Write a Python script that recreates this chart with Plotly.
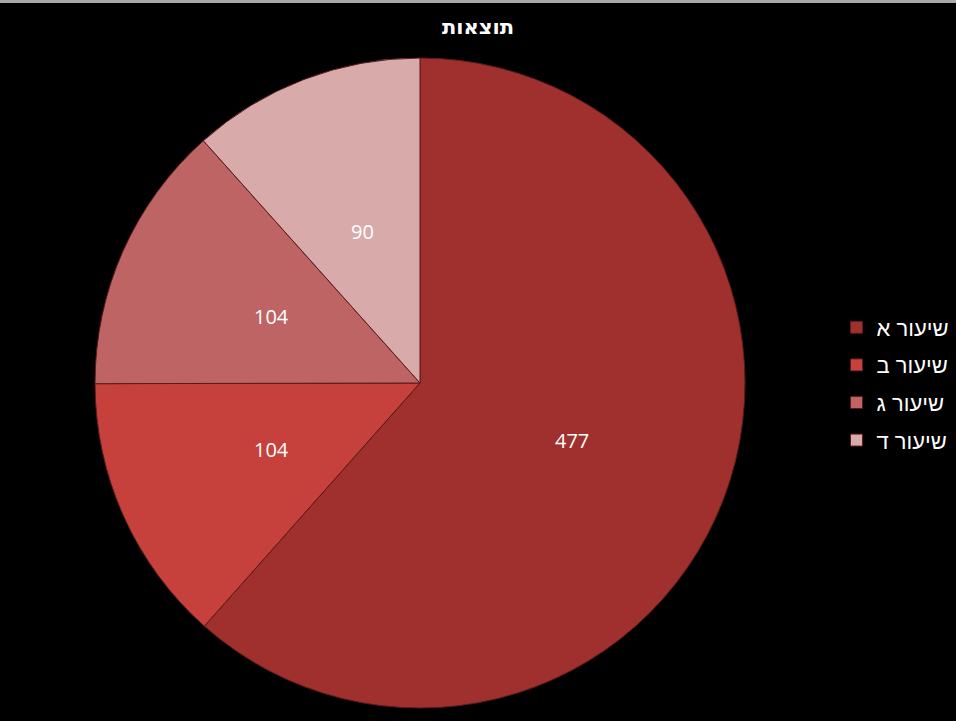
import math
import plotly.graph_objects as go

labels = ["שיעור א", "שיעור ב", "שיעור ג", "שיעור ד"]
values = [477, 104, 104, 90]
colors = ["#a0302d", "#c7413c", "#bf6464", "#d8aaaa"]

W, H = 956, 721
cx, cy, r = 420, 383, 325
dom = dict(x=[(cx - r) / W, (cx + r) / W], y=[1 - (cy + r) / H, 1 - (cy - r) / H])
label_font = dict(color="white", size=20, family="Open Sans, Liberation Sans, DejaVu Sans, sans-serif")

fig = go.Figure()
fig.add_trace(go.Pie(
    labels=labels,
    values=values,
    sort=False,
    direction="clockwise",
    rotation=0,
    marker=dict(colors=colors, line=dict(color="#5a1a1a", width=1)),
    textinfo="none",
    domain=dom,
    hoverinfo="label+value",
    showlegend=False,
))

# legend entries
for lab, col in zip(labels, colors):
    fig.add_trace(go.Scatter(
        x=[None], y=[None], mode="markers", name=lab, legendgroup=lab,
        marker=dict(symbol="square", size=12, color=col, line=dict(color="#5a1a1a", width=1)),
    ))

# value labels at half radius on each slice's mid-angle (Excel style),
# placed on a hidden [-1,1] axis pair that coincides with the pie's circle
total = sum(values)
annotations = []
acc = 0
for v in values:
    ang = math.radians((acc + v / 2) / total * 360)
    acc += v
    annotations.append(dict(x=0.5 * math.sin(ang), y=0.5 * math.cos(ang), xref="x", yref="y",
                            text=str(v), showarrow=False, font=label_font,
                            xanchor="center", yanchor="middle"))

fig.update_layout(
    width=W, height=H,
    paper_bgcolor="black", plot_bgcolor="rgba(0,0,0,0)",
    margin=dict(l=0, r=0, t=0, b=0),
    xaxis=dict(visible=False, range=[-1, 1], domain=dom["x"], fixedrange=True),
    yaxis=dict(visible=False, range=[-1, 1], domain=dom["y"], fixedrange=True),
    annotations=annotations,
    title=dict(text="<b>תוצאות</b>", x=0.5, xanchor="center", y=1 - 27 / H, yanchor="middle",
               font=dict(color="white", size=21, family="DejaVu Sans, Liberation Sans, sans-serif")),
    legend=dict(x=0.875, y=1 - 384 / H, xanchor="left", yanchor="middle",
                font=dict(color="white", size=22, family="Liberation Sans, DejaVu Sans, sans-serif"),
                tracegroupgap=6, bgcolor="rgba(0,0,0,0)", itemwidth=30),
    shapes=[dict(type="rect", xref="paper", yref="paper", x0=0, x1=1,
                 y0=1 - 3 / H, y1=1, fillcolor="#a7a9ac", line=dict(width=0), layer="above")],
)

fig.write_html("out.html", config={"displayModeBar": False},
               post_script="document.body.style.margin='0';document.body.style.overflow='hidden';")
